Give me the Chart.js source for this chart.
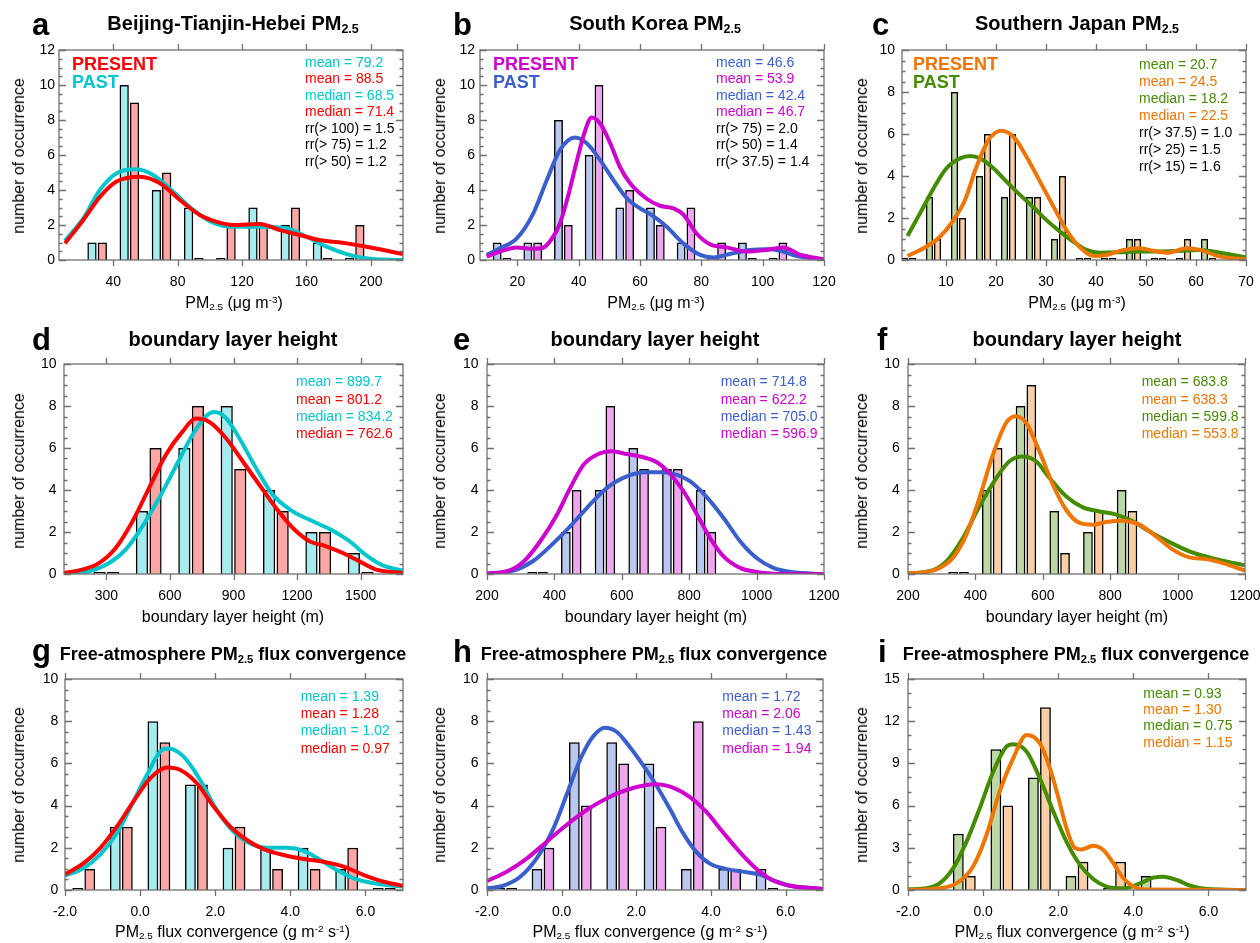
<!DOCTYPE html>
<html>
<head>
<meta charset="utf-8">
<title>PM2.5 histograms</title>
<script src="https://cdn.jsdelivr.net/npm/chart.js@4.4.1/dist/chart.umd.min.js"></script>
<style>
  html, body { margin: 0; padding: 0; background: #fff; overflow: hidden; }
  #fig { position: relative; width: 1260px; height: 943px; font-family: "Liberation Sans", Arial, Helvetica, sans-serif; color: #000; }
  #fig canvas { position: absolute; }
  .txt { position: absolute; white-space: nowrap; line-height: 1; }
  .txt sub { font-size: 0.62em; vertical-align: -0.25em; line-height: 0; }
  .txt sup { font-size: 0.62em; vertical-align: 0.55em; line-height: 0; }
</style>
</head>
<body>
<div id="fig"></div>
<script>
// ---- a: Beijing-Tianjin-Hebei PM2.5 ----
const pmBthTicks = [40, 80, 120, 160, 200];
const pmBthBins = [30, 50, 70, 90, 110, 130, 150, 170, 190];
const pmBthPast = [1, 10, 4, 3, 0, 3, 2, 1, 0];
const pmBthPresent = [1, 9, 5, 0, 2, 2, 3, 0, 2];
const pmBthPastKdeX = [10, 21.4, 31.7, 42, 53.5, 64.8, 77.3, 89.7, 102, 114.5, 131, 147.6, 160, 172.5, 185, 197, 220];
const pmBthPastKdeY = [1.1, 2.38, 4.0, 4.95, 5.18, 4.86, 3.9, 2.86, 2.13, 1.9, 1.9, 1.81, 1.33, 0.76, 0.34, 0.1, 0.0];
const pmBthPresentKdeX = [10, 21.4, 31.7, 42, 56.6, 69, 81.4, 93.8, 104, 114.5, 131, 143.5, 156, 168, 185, 197, 210, 220];
const pmBthPresentKdeY = [0.95, 2.29, 3.6, 4.48, 4.76, 4.38, 3.43, 2.57, 2.19, 2.0, 2.06, 1.71, 1.43, 1.14, 0.95, 0.76, 0.53, 0.34];

// ---- b: South Korea PM2.5 ----
const pmKorTicks = [20, 40, 60, 80, 100, 120];
const pmKorBins = [15, 25, 35, 45, 55, 65, 75, 85, 95, 105];
const pmKorPast = [1, 1, 8, 6, 3, 3, 1, 0, 1, 0];
const pmKorPresent = [0, 1, 2, 10, 4, 2, 3, 1, 0, 1];
const pmKorPastKdeX = [10, 14.3, 19.8, 25.2, 29.6, 33.9, 38.8, 42.6, 47, 51.3, 55.7, 60, 64.3, 68.7, 74.1, 79.6, 83.9, 89.3, 95.9, 101.3, 105.7, 111.1, 120];
const pmKorPastKdeY = [0.29, 0.67, 1.24, 2.67, 4.57, 6.29, 7.0, 6.67, 5.71, 4.57, 3.52, 2.95, 2.51, 1.9, 0.95, 0.29, 0.15, 0.34, 0.57, 0.61, 0.53, 0.23, 0.04];
const pmKorPresentKdeX = [10, 14.3, 19.8, 24.1, 27.9, 31.2, 33.9, 36.6, 39.3, 42.1, 44.2, 47, 50.2, 53.5, 56.7, 62.2, 66.5, 70.9, 74.1, 78.5, 82.8, 88.3, 94.8, 100.2, 106.7, 112.2, 120];
const pmKorPresentKdeY = [0.19, 0.48, 0.72, 0.65, 0.67, 1.2, 2.1, 3.7, 5.6, 7.4, 8.15, 7.8, 6.7, 5.3, 4.4, 3.5, 3.1, 2.95, 2.6, 1.5, 0.9, 0.72, 0.48, 0.55, 0.72, 0.3, 0.04];

// ---- c: Southern Japan PM2.5 ----
const pmJpnTicks = [10, 20, 30, 40, 50, 60, 70];
const pmJpnBins = [2.5, 7.5, 12.5, 17.5, 22.5, 27.5, 32.5, 37.5, 42.5, 47.5, 52.5, 57.5, 62.5];
const pmJpnPast = [0, 3, 8, 4, 3, 3, 1, 0, 0, 1, 0, 0, 1];
const pmJpnPresent = [0, 1, 2, 6, 6, 3, 4, 0, 0, 1, 0, 1, 0];
const pmJpnPastKdeX = [2.3, 4.8, 7.5, 10.1, 12.8, 14.8, 16.8, 19.5, 22.1, 24.8, 27.5, 30.1, 32.8, 35.5, 38.1, 40.8, 44.8, 48.8, 52.8, 56.8, 60.8, 64.8, 70];
const pmJpnPastKdeY = [1.14, 2.22, 3.41, 4.37, 4.84, 4.95, 4.84, 4.37, 3.73, 3.1, 2.51, 1.9, 1.35, 0.87, 0.48, 0.35, 0.37, 0.4, 0.4, 0.44, 0.48, 0.35, 0.13];
const pmJpnPresentKdeX = [2.3, 5.5, 8.8, 11.5, 13.8, 16.1, 18.5, 21, 23.5, 26.1, 28.8, 31.5, 34.1, 36.8, 39.5, 42.1, 45.5, 48.5, 51.5, 54.5, 58.1, 60.8, 64.8, 70];
const pmJpnPresentKdeY = [0.19, 0.56, 1.11, 1.9, 2.86, 4.44, 5.71, 6.16, 5.87, 4.92, 3.73, 2.54, 1.43, 0.6, 0.19, 0.24, 0.48, 0.56, 0.44, 0.35, 0.56, 0.48, 0.16, 0.03];

// ---- d: boundary layer height, Beijing-Tianjin-Hebei ----
const blhBthTicks = [300, 600, 900, 1200, 1500];
const blhBthBins = [300, 500, 700, 900, 1100, 1300, 1500];
const blhBthPast = [0, 3, 6, 8, 4, 2, 1];
const blhBthPresent = [0, 6, 8, 5, 3, 2, 0];
const blhBthPastKdeX = [100, 218, 313, 391, 470, 549, 628, 707, 770, 809, 864, 927, 1006, 1085, 1180, 1274, 1369, 1448, 1527, 1605, 1700];
const blhBthPastKdeY = [0, 0.13, 0.52, 1.16, 2.27, 3.62, 5.13, 6.63, 7.51, 7.71, 7.43, 6.48, 5.05, 3.78, 2.98, 2.51, 2.06, 1.56, 0.89, 0.41, 0.16];
const blhBthPresentKdeX = [100, 186, 265, 344, 423, 502, 581, 660, 722, 786, 864, 943, 1022, 1101, 1180, 1259, 1337, 1416, 1495, 1574, 1700];
const blhBthPresentKdeY = [0.05, 0.21, 0.52, 1.24, 2.5, 4.1, 5.68, 6.79, 7.4, 7.24, 6.48, 5.37, 4.25, 3.14, 2.19, 1.56, 1.32, 1.0, 0.6, 0.21, 0.05];

// ---- e: boundary layer height, South Korea ----
const blhKorTicks = [200, 400, 600, 800, 1000, 1200];
const blhKorBins = [350, 450, 550, 650, 750, 850];
const blhKorPast = [0, 2, 4, 6, 5, 4];
const blhKorPresent = [0, 4, 8, 5, 5, 2];
const blhKorPastKdeX = [200, 279, 338, 398, 447, 496, 556, 615, 674, 714, 751, 803, 850, 902, 951, 1000, 1050, 1109, 1200];
const blhKorPastKdeY = [0, 0.16, 0.63, 1.48, 2.27, 3.14, 4.1, 4.65, 4.84, 4.84, 4.78, 4.41, 3.7, 2.67, 1.56, 0.76, 0.29, 0.08, 0];
const blhKorPresentKdeX = [200, 259, 309, 358, 408, 447, 487, 526, 571, 615, 664, 704, 741, 783, 823, 862, 902, 951, 1000, 1089, 1200];
const blhKorPresentKdeY = [0.03, 0.13, 0.6, 1.56, 2.83, 4.1, 5.21, 5.68, 5.84, 5.71, 5.56, 5.32, 4.81, 3.94, 2.83, 1.71, 0.84, 0.29, 0.1, 0, 0];

// ---- f: boundary layer height, Southern Japan ----
const blhJpnTicks = [200, 400, 600, 800, 1000, 1200];
const blhJpnBins = [350, 450, 550, 650, 750, 850];
const blhJpnPast = [0, 4, 8, 3, 2, 4];
const blhJpnPresent = [0, 6, 9, 1, 3, 3];
const blhJpnPastKdeX = [200, 264, 314, 363, 412, 462, 501, 539, 580, 620, 669, 719, 768, 818, 867, 916, 976, 1035, 1094, 1144, 1200];
const blhJpnPastKdeY = [0.03, 0.13, 0.6, 1.71, 3.22, 4.57, 5.37, 5.6, 5.37, 4.57, 3.7, 3.17, 2.98, 2.83, 2.51, 2.03, 1.52, 1.08, 0.79, 0.6, 0.41];
const blhJpnPresentKdeX = [200, 254, 294, 333, 373, 412, 452, 491, 519, 551, 590, 630, 669, 709, 748, 788, 837, 887, 936, 986, 1035, 1084, 1134, 1200];
const blhJpnPresentKdeY = [0.03, 0.1, 0.29, 0.76, 1.87, 3.62, 5.68, 7.19, 7.51, 7.19, 5.84, 4.25, 3.06, 2.43, 2.35, 2.48, 2.54, 2.35, 1.79, 1.16, 0.79, 0.71, 0.52, 0.16];

// ---- g: free-atmosphere flux convergence, Beijing-Tianjin-Hebei ----
const fluxTicks = [-2, 0, 2, 4, 6];
const fluxBthBins = [-1.5, -0.5, 0.5, 1.5, 2.5, 3.5, 4.5, 5.5, 6.5];
const fluxBthPast = [0, 3, 8, 5, 2, 2, 2, 1, 0];
const fluxBthPresent = [1, 3, 7, 5, 3, 1, 1, 2, 0];
const fluxBthPastKdeX = [-2, -1.51, -1.07, -0.62, -0.18, 0.18, 0.62, 0.76, 1.16, 1.6, 2.04, 2.49, 2.93, 3.38, 3.91, 4.36, 4.8, 5.24, 5.69, 6.22, 7];
const fluxBthPastKdeY = [0.68, 1.03, 1.66, 2.69, 4.19, 5.45, 6.68, 6.71, 6.32, 5.21, 3.79, 2.76, 2.21, 2.0, 2.0, 1.85, 1.42, 0.95, 0.55, 0.32, 0.16];
const fluxBthPresentKdeX = [-2, -1.51, -1.07, -0.62, -0.18, 0.27, 0.71, 1.07, 1.51, 1.96, 2.4, 2.84, 3.29, 3.82, 4.36, 4.89, 5.42, 5.96, 6.49, 7];
const fluxBthPresentKdeY = [0.74, 1.26, 1.97, 3.0, 4.19, 5.29, 5.8, 5.69, 5.06, 3.95, 3.0, 2.37, 1.94, 1.66, 1.47, 1.34, 1.11, 0.71, 0.39, 0.2];

// ---- h: free-atmosphere flux convergence, South Korea ----
const fluxKorBins = [-1.5, -0.5, 0.5, 1.5, 2.5, 3.5, 4.5, 5.5];
const fluxKorPast = [0, 1, 7, 7, 6, 1, 1, 1];
const fluxKorPresent = [0, 2, 4, 6, 3, 8, 1, 0];
const fluxKorPastKdeX = [-2, -1.56, -1.11, -0.67, -0.22, 0.13, 0.49, 0.84, 1.16, 1.47, 1.82, 2.18, 2.53, 2.89, 3.24, 3.6, 3.96, 4.4, 4.84, 5.29, 5.64, 6.09, 7];
const fluxKorPastKdeY = [0.08, 0.21, 0.63, 1.5, 2.92, 4.5, 6.16, 7.27, 7.69, 7.5, 6.79, 5.92, 4.98, 3.87, 2.73, 1.82, 1.26, 1.0, 0.87, 0.74, 0.47, 0.21, 0.05];
const fluxKorPresentKdeX = [-2, -1.47, -0.93, -0.4, 0.13, 0.67, 1.2, 1.73, 2.27, 2.53, 2.98, 3.42, 3.87, 4.31, 4.76, 5.2, 5.64, 6.09, 7];
const fluxKorPresentKdeY = [0.43, 0.87, 1.5, 2.29, 3.08, 3.79, 4.34, 4.74, 4.98, 5.01, 4.85, 4.42, 3.71, 2.76, 1.82, 1.03, 0.47, 0.21, 0.05];

// ---- i: free-atmosphere flux convergence, Southern Japan ----
const fluxJpnBins = [-0.5, 0.5, 1.5, 2.5, 3.5, 4.5];
const fluxJpnPast = [4, 10, 8, 1, 0, 1];
const fluxJpnPresent = [1, 6, 13, 2, 2, 0];
const fluxJpnPastKdeX = [-2, -1.51, -1.16, -0.8, -0.44, -0.09, 0.27, 0.62, 0.8, 1.16, 1.51, 1.87, 2.22, 2.58, 2.93, 3.29, 3.73, 4.18, 4.53, 4.8, 5.16, 5.51, 5.96, 7];
const fluxJpnPastKdeY = [0.05, 0.12, 0.47, 1.54, 3.44, 5.81, 8.41, 10.19, 10.36, 9.83, 7.94, 5.57, 3.44, 1.78, 0.78, 0.24, 0.12, 0.47, 0.88, 0.95, 0.71, 0.31, 0.07, 0];
const fluxJpnPresentKdeX = [-2, -1.16, -0.71, -0.27, 0.09, 0.44, 0.8, 1.16, 1.51, 1.78, 2.0, 2.22, 2.44, 2.62, 2.93, 3.2, 3.47, 3.73, 4.0, 4.4, 7];
const fluxJpnPresentKdeY = [0, 0.12, 0.47, 1.66, 3.91, 6.99, 9.36, 11.02, 10.43, 8.65, 6.6, 4.4, 3.0, 2.88, 3.15, 2.85, 1.9, 0.85, 0.25, 0.03, 0];

// NCL-like named colours
const RED = 'rgb(255,0,0)';
const CYAN = 'rgb(0,197,205)';
const BLUE = 'rgb(58,95,205)';
const MAGENTA = 'rgb(205,0,205)';
const GREEN = 'rgb(69,139,0)';
const ORANGE = 'rgb(238,118,0)';
const fade = (c) => c.replace('rgb(', 'rgba(').replace(')', ',0.35)');

const FONT = '"Liberation Sans", Arial, Helvetica, sans-serif';
Chart.defaults.font.family = FONT;
Chart.defaults.font.size = 14;
Chart.defaults.color = '#000';

const PM_TITLE = 'PM<sub>2.5</sub> (μg m<sup>-3</sup>)';
const BLH_TITLE = 'boundary layer height (m)';
const FLUX_TITLE = 'PM<sub>2.5</sub> flux convergence (g m<sup>-2</sup> s<sup>-1</sup>)';
const FLUX_HEAD = 'Free-atmosphere PM<sub>2.5</sub> flux convergence';

const panels = [
    {
        letter: 'a', letterPos: [32, 35], title: 'Beijing-Tianjin-Hebei PM<sub>2.5</sub>', titlePos: [233, 30, 20],
        xTitle: PM_TITLE, xTitlePos: [234, 309], yTitlePos: [19, 156],
        box: [59, 50, 403, 260], xRange: [6.3, 220], xTicks: pmBthTicks, yMax: 12, yStep: 2, yMinor: 0.5, yPad: 4,
        bins: pmBthBins, past: pmBthPast, present: pmBthPresent,
        pastKde: [pmBthPastKdeX, pmBthPastKdeY], presentKde: [pmBthPresentKdeX, pmBthPresentKdeY],
        pastColor: CYAN, presentColor: RED, legendPos: [72, 70, 88.3],
        statsPos: [305, 66.8, 16.5],
        stats: [['mean = 79.2', 'past'], ['mean = 88.5', 'present'], ['median = 68.5', 'past'], ['median = 71.4', 'present'],
            ['rr(> 100) = 1.5'], ['rr(> 75) = 1.2'], ['rr(> 50) = 1.2']],
    },
    {
        letter: 'b', letterPos: [453, 35], title: 'South Korea PM<sub>2.5</sub>', titlePos: [655, 30, 20],
        xTitle: PM_TITLE, xTitlePos: [656, 309], yTitlePos: [440, 156],
        box: [480, 50, 824, 260], xRange: [7.8, 120], xTicks: pmKorTicks, yMax: 12, yStep: 2, yMinor: 0.5, yPad: 5,
        bins: pmKorBins, past: pmKorPast, present: pmKorPresent,
        pastKde: [pmKorPastKdeX, pmKorPastKdeY], presentKde: [pmKorPresentKdeX, pmKorPresentKdeY],
        pastColor: BLUE, presentColor: MAGENTA, legendPos: [493, 70, 88.3],
        statsPos: [716, 66.8, 16.5],
        stats: [['mean = 46.6', 'past'], ['mean = 53.9', 'present'], ['median = 42.4', 'past'], ['median = 46.7', 'present'],
            ['rr(> 75) = 2.0'], ['rr(> 50) = 1.4'], ['rr(> 37.5) = 1.4']],
    },
    {
        letter: 'c', letterPos: [872, 35], title: 'Southern Japan PM<sub>2.5</sub>', titlePos: [1077, 30, 20],
        xTitle: PM_TITLE, xTitlePos: [1077, 309], yTitlePos: [862, 156],
        box: [902, 50, 1246, 260], xRange: [1.2, 70], xTicks: pmJpnTicks, yMax: 10, yStep: 2, yMinor: 0.5, yPad: 7,
        bins: pmJpnBins, past: pmJpnPast, present: pmJpnPresent,
        pastKde: [pmJpnPastKdeX, pmJpnPastKdeY], presentKde: [pmJpnPresentKdeX, pmJpnPresentKdeY],
        pastColor: GREEN, presentColor: ORANGE, legendPos: [913, 70, 88.3],
        statsPos: [1139, 68.5, 17.1],
        stats: [['mean = 20.7', 'past'], ['mean = 24.5', 'present'], ['median = 18.2', 'past'], ['median = 22.5', 'present'],
            ['rr(> 37.5) = 1.0'], ['rr(> 25) = 1.5'], ['rr(> 15) = 1.6']],
    },
    {
        letter: 'd', letterPos: [32, 350], title: 'boundary layer height', titlePos: [233, 345.5, 20],
        xTitle: BLH_TITLE, xTitlePos: [233, 623], yTitlePos: [19, 471],
        box: [64, 364, 403, 574], xRange: [100, 1700], xTicks: blhBthTicks, yMax: 10, yStep: 2, yMinor: 0.5, yPad: 7.5,
        bins: blhBthBins, past: blhBthPast, present: blhBthPresent,
        pastKde: [blhBthPastKdeX, blhBthPastKdeY], presentKde: [blhBthPresentKdeX, blhBthPresentKdeY],
        pastColor: CYAN, presentColor: RED,
        statsPos: [296, 386.2, 17.2],
        stats: [['mean = 899.7', 'past'], ['mean = 801.2', 'present'], ['median = 834.2', 'past'], ['median = 762.6', 'present']],
    },
    {
        letter: 'e', letterPos: [453, 350], title: 'boundary layer height', titlePos: [655, 345.5, 20],
        xTitle: BLH_TITLE, xTitlePos: [656, 623], yTitlePos: [440, 471],
        box: [487, 364, 824, 574], xRange: [200, 1200], xTicks: blhKorTicks, yMax: 10, yStep: 2, yMinor: 0.5, yPad: 8.4,
        bins: blhKorBins, past: blhKorPast, present: blhKorPresent,
        pastKde: [blhKorPastKdeX, blhKorPastKdeY], presentKde: [blhKorPresentKdeX, blhKorPresentKdeY],
        pastColor: BLUE, presentColor: MAGENTA,
        statsPos: [720.7, 386.2, 17.2],
        stats: [['mean = 714.8', 'past'], ['mean = 622.2', 'present'], ['median = 705.0', 'past'], ['median = 596.9', 'present']],
    },
    {
        letter: 'f', letterPos: [877, 350], title: 'boundary layer height', titlePos: [1077, 345.5, 20],
        xTitle: BLH_TITLE, xTitlePos: [1077, 623], yTitlePos: [862, 471],
        box: [908, 364, 1245, 574], xRange: [200, 1200], xTicks: blhJpnTicks, yMax: 10, yStep: 2, yMinor: 0.5, yPad: 8.3,
        bins: blhJpnBins, past: blhJpnPast, present: blhJpnPresent,
        pastKde: [blhJpnPastKdeX, blhJpnPastKdeY], presentKde: [blhJpnPresentKdeX, blhJpnPresentKdeY],
        pastColor: GREEN, presentColor: ORANGE,
        statsPos: [1141.7, 386.2, 17.2],
        stats: [['mean = 683.8', 'past'], ['mean = 638.3', 'present'], ['median = 599.8', 'past'], ['median = 553.8', 'present']],
    },
    {
        letter: 'g', letterPos: [32, 661], title: FLUX_HEAD, titlePos: [233, 660, 18],
        xTitle: FLUX_TITLE, xTitlePos: [232.5, 938], yTitlePos: [19, 785],
        box: [65, 679, 403, 890], xRange: [-2, 7], xTicks: fluxTicks, xFixed: 1, yMax: 10, yStep: 2, yMinor: 0.5, yPad: 6.7,
        bins: fluxBthBins, past: fluxBthPast, present: fluxBthPresent,
        pastKde: [fluxBthPastKdeX, fluxBthPastKdeY], presentKde: [fluxBthPresentKdeX, fluxBthPresentKdeY],
        pastColor: CYAN, presentColor: RED,
        statsPos: [300.7, 700.8, 17.2],
        stats: [['mean = 1.39', 'past'], ['mean = 1.28', 'present'], ['median = 1.02', 'past'], ['median = 0.97', 'present']],
    },
    {
        letter: 'h', letterPos: [453, 662], title: FLUX_HEAD, titlePos: [654, 660, 18],
        xTitle: FLUX_TITLE, xTitlePos: [650, 938], yTitlePos: [440, 785],
        box: [487, 679, 823, 890], xRange: [-2, 7], xTicks: fluxTicks, xFixed: 1, yMax: 10, yStep: 2, yMinor: 0.5, yPad: 8.4,
        bins: fluxKorBins, past: fluxKorPast, present: fluxKorPresent,
        pastKde: [fluxKorPastKdeX, fluxKorPastKdeY], presentKde: [fluxKorPresentKdeX, fluxKorPresentKdeY],
        pastColor: BLUE, presentColor: MAGENTA,
        statsPos: [722.3, 700.8, 17.2],
        stats: [['mean = 1.72', 'past'], ['mean = 2.06', 'present'], ['median = 1.43', 'past'], ['median = 1.94', 'present']],
    },
    {
        letter: 'i', letterPos: [878, 662], title: FLUX_HEAD, titlePos: [1076, 660, 18],
        xTitle: FLUX_TITLE, xTitlePos: [1072, 938], yTitlePos: [862, 785],
        box: [908, 679, 1246, 890], xRange: [-2, 7], xTicks: fluxTicks, xFixed: 1, yMax: 15, yStep: 3, yMinor: 1, yPad: 8.3,
        bins: fluxJpnBins, past: fluxJpnPast, present: fluxJpnPresent,
        pastKde: [fluxJpnPastKdeX, fluxJpnPastKdeY], presentKde: [fluxJpnPresentKdeX, fluxJpnPresentKdeY],
        pastColor: GREEN, presentColor: ORANGE,
        statsPos: [1143.3, 697.5, 16.3],
        stats: [['mean = 0.93', 'past'], ['mean = 1.30', 'present'], ['median = 0.75', 'past'], ['median = 1.15', 'present']],
    },
];

// frame with outward x ticks and inward major/minor y ticks on both sides
const framePlugin = {
    id: 'frame',
    afterDraw(chart, args, opts) {
        const { ctx, chartArea: a, scales } = chart;
        const x = scales.x, y = scales.y;
        ctx.save();
        ctx.strokeStyle = '#707070';
        ctx.lineWidth = 1.3;
        ctx.strokeRect(a.left, a.top, a.right - a.left, a.bottom - a.top);
        ctx.beginPath();
        x.ticks.forEach((t) => {
            const px = Math.round(x.getPixelForValue(t.value)) + 0.5;
            ctx.moveTo(px, a.bottom); ctx.lineTo(px, a.bottom + 6);
            ctx.moveTo(px, a.top); ctx.lineTo(px, a.top - 6);
        });
        const n = Math.round(y.max / opts.minor);
        for (let i = 0; i <= n; i++) {
            const v = i * opts.minor;
            const py = Math.round(y.getPixelForValue(v)) + 0.5;
            const major = Math.abs(v / opts.major - Math.round(v / opts.major)) < 1e-6;
            const len = major ? 7 : 3.5;
            ctx.moveTo(a.left, py); ctx.lineTo(a.left + len, py);
            ctx.moveTo(a.right, py); ctx.lineTo(a.right - len, py);
        }
        ctx.stroke();
        ctx.restore();
    },
};

const fig = document.getElementById('fig');

function addText(html, x, baseline, size, opts = {}) {
    const d = document.createElement('div');
    d.className = 'txt';
    d.innerHTML = html;
    d.style.fontSize = size + 'px';
    d.style.left = x + 'px';
    d.style.top = (baseline - 0.8465 * size) + 'px';
    if (opts.bold) d.style.fontWeight = 'bold';
    if (opts.color) d.style.color = opts.color;
    if (opts.center) d.style.transform = 'translateX(-50%)';
    fig.appendChild(d);
    return d;
}

function addVText(text, cx, cy, size) {
    const d = document.createElement('div');
    d.className = 'txt';
    d.textContent = text;
    d.style.fontSize = size + 'px';
    d.style.left = cx + 'px';
    d.style.top = cy + 'px';
    d.style.transform = 'translate(-50%, -50%) rotate(-90deg)';
    fig.appendChild(d);
}

const toPoints = (xs, ys) => xs.map((v, i) => ({ x: v, y: ys[i] }));

panels.forEach((p) => {
    const [L, T, R, B] = p.box;
    const padLeft = 60, padTop = 20, padRight = 25, xAxisH = 45;
    const canvas = document.createElement('canvas');
    canvas.width = (R - L) + padLeft + padRight;
    canvas.height = (B - T) + padTop + xAxisH;
    canvas.style.left = (L - padLeft) + 'px';
    canvas.style.top = (T - padTop) + 'px';
    fig.appendChild(canvas);

    const barStyle = (c) => ({
        type: 'bar',
        backgroundColor: fade(c),
        borderColor: '#000',
        borderWidth: 1.5,
        categoryPercentage: 0.64,
        barPercentage: 0.9,
        minBarLength: 2,
    });
    const kdeStyle = (c) => ({
        type: 'line',
        borderColor: c,
        borderWidth: 4,
        pointRadius: 0,
        fill: false,
        cubicInterpolationMode: 'monotone',
    });

    new Chart(canvas, {
        type: 'bar',
        data: {
            datasets: [
                { ...kdeStyle(p.presentColor), label: 'PRESENT kde', data: toPoints(p.presentKde[0], p.presentKde[1]) },
                { ...kdeStyle(p.pastColor), label: 'PAST kde', data: toPoints(p.pastKde[0], p.pastKde[1]) },
                { ...barStyle(p.pastColor), label: 'PAST', data: toPoints(p.bins, p.past) },
                { ...barStyle(p.presentColor), label: 'PRESENT', data: toPoints(p.bins, p.present) },
            ],
        },
        options: {
            responsive: false,
            animation: false,
            events: [],
            layout: { padding: { left: 0, top: padTop, right: padRight, bottom: 0 } },
            plugins: {
                legend: { display: false },
                tooltip: { enabled: false },
                frame: { minor: p.yMinor, major: p.yStep },
            },
            scales: {
                x: {
                    type: 'linear',
                    min: p.xRange[0],
                    max: p.xRange[1],
                    offset: false,
                    grid: { display: false, drawTicks: false },
                    border: { display: false },
                    ticks: {
                        padding: 14,
                        autoSkip: false,
                        maxRotation: 0,
                        callback: (v) => (p.xFixed ? Number(v).toFixed(p.xFixed) : String(v)),
                    },
                    afterBuildTicks: (s) => { s.ticks = p.xTicks.map((v) => ({ value: v })); },
                    afterFit: (s) => { s.height = xAxisH; s.paddingLeft = 0; s.paddingRight = 0; },
                },
                y: {
                    min: 0,
                    max: p.yMax,
                    grid: { display: false, drawTicks: false },
                    border: { display: false },
                    ticks: { stepSize: p.yStep, padding: p.yPad },
                    afterFit: (s) => { s.width = padLeft; s.paddingTop = 0; s.paddingBottom = 0; },
                },
            },
        },
        plugins: [framePlugin],
    });

    // panel letter, title, axis titles
    addText(p.letter, p.letterPos[0], p.letterPos[1], 31, { bold: true });
    addText(p.title, p.titlePos[0], p.titlePos[1], p.titlePos[2], { bold: true, center: true });
    addText(p.xTitle, p.xTitlePos[0], p.xTitlePos[1], 16, { center: true });
    addVText('number of occurrence', p.yTitlePos[0], p.yTitlePos[1], 16);

    if (p.legendPos) {
        addText('PRESENT', p.legendPos[0], p.legendPos[1], 18, { bold: true, color: p.presentColor });
        addText('PAST', p.legendPos[0], p.legendPos[2], 18, { bold: true, color: p.pastColor });
    }

    const [sx, sy, step] = p.statsPos;
    p.stats.forEach((s, i) => {
        const color = s[1] === 'past' ? p.pastColor : s[1] === 'present' ? p.presentColor : '#000';
        addText(s[0], sx, sy + i * step, 14, { color });
    });
});
</script>
</body>
</html>
